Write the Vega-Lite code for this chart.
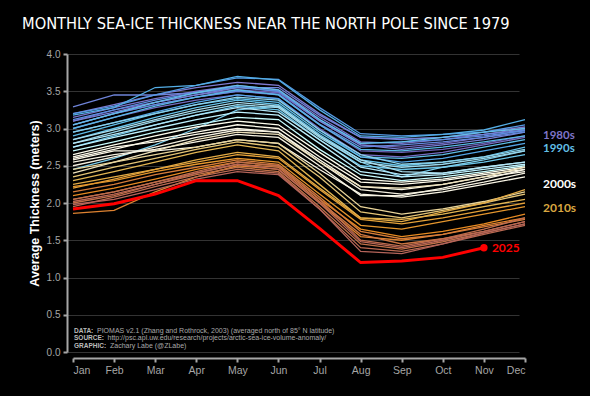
{
"$schema":"https://vega.github.io/schema/vega-lite/v6.json",
"width":452,"height":298,
"autosize":{"type":"none"},
"padding":{"left":73,"top":54,"right":65,"bottom":44},
"background":"#000000",
"config":{"view":{"stroke":null},
"axis":{"domainColor":"#a6a6a6","domainWidth":2,"tickColor":"#a6a6a6","tickWidth":2,"tickSize":4,"labelColor":"#a6a6a6","labelFont":"Liberation Sans","labelFontSize":10,"gridColor":"#333333","gridWidth":1,"offset":6}},
"title":{"text":"MONTHLY SEA-ICE THICKNESS NEAR THE NORTH POLE SINCE 1979","anchor":"start","frame":"group","dx":-51,"offset":17,"color":"#ffffff","font":"DejaVu Sans Condensed, Roboto","fontSize":16.3,"fontWeight":"normal"},
"datasets":{
"ice":[
{"year":1979,"mon":1,"thk":3.05},{"year":1979,"mon":2,"thk":3.20},{"year":1979,"mon":3,"thk":3.32},{"year":1979,"mon":4,"thk":3.42},{"year":1979,"mon":5,"thk":3.50},{"year":1979,"mon":6,"thk":3.45},{"year":1979,"mon":7,"thk":3.05},{"year":1979,"mon":8,"thk":2.70},{"year":1979,"mon":9,"thk":2.68},{"year":1979,"mon":10,"thk":2.72},{"year":1979,"mon":11,"thk":2.80},{"year":1979,"mon":12,"thk":2.90},
{"year":1980,"mon":1,"thk":3.10},{"year":1980,"mon":2,"thk":3.25},{"year":1980,"mon":3,"thk":3.35},{"year":1980,"mon":4,"thk":3.45},{"year":1980,"mon":5,"thk":3.52},{"year":1980,"mon":6,"thk":3.48},{"year":1980,"mon":7,"thk":3.10},{"year":1980,"mon":8,"thk":2.78},{"year":1980,"mon":9,"thk":2.75},{"year":1980,"mon":10,"thk":2.80},{"year":1980,"mon":11,"thk":2.88},{"year":1980,"mon":12,"thk":2.98},
{"year":1981,"mon":1,"thk":3.00},{"year":1981,"mon":2,"thk":3.15},{"year":1981,"mon":3,"thk":3.28},{"year":1981,"mon":4,"thk":3.38},{"year":1981,"mon":5,"thk":3.45},{"year":1981,"mon":6,"thk":3.40},{"year":1981,"mon":7,"thk":3.00},{"year":1981,"mon":8,"thk":2.65},{"year":1981,"mon":9,"thk":2.62},{"year":1981,"mon":10,"thk":2.68},{"year":1981,"mon":11,"thk":2.78},{"year":1981,"mon":12,"thk":2.88},
{"year":1982,"mon":1,"thk":3.15},{"year":1982,"mon":2,"thk":3.28},{"year":1982,"mon":3,"thk":3.40},{"year":1982,"mon":4,"thk":3.50},{"year":1982,"mon":5,"thk":3.58},{"year":1982,"mon":6,"thk":3.52},{"year":1982,"mon":7,"thk":3.15},{"year":1982,"mon":8,"thk":2.82},{"year":1982,"mon":9,"thk":2.80},{"year":1982,"mon":10,"thk":2.85},{"year":1982,"mon":11,"thk":2.92},{"year":1982,"mon":12,"thk":3.00},
{"year":1983,"mon":1,"thk":3.20},{"year":1983,"mon":2,"thk":3.32},{"year":1983,"mon":3,"thk":3.45},{"year":1983,"mon":4,"thk":3.55},{"year":1983,"mon":5,"thk":3.62},{"year":1983,"mon":6,"thk":3.58},{"year":1983,"mon":7,"thk":3.20},{"year":1983,"mon":8,"thk":2.88},{"year":1983,"mon":9,"thk":2.86},{"year":1983,"mon":10,"thk":2.88},{"year":1983,"mon":11,"thk":2.95},{"year":1983,"mon":12,"thk":3.02},
{"year":1984,"mon":1,"thk":3.10},{"year":1984,"mon":2,"thk":3.22},{"year":1984,"mon":3,"thk":3.35},{"year":1984,"mon":4,"thk":3.45},{"year":1984,"mon":5,"thk":3.55},{"year":1984,"mon":6,"thk":3.50},{"year":1984,"mon":7,"thk":3.10},{"year":1984,"mon":8,"thk":2.78},{"year":1984,"mon":9,"thk":2.72},{"year":1984,"mon":10,"thk":2.78},{"year":1984,"mon":11,"thk":2.85},{"year":1984,"mon":12,"thk":2.95},
{"year":1985,"mon":1,"thk":3.29},{"year":1985,"mon":2,"thk":3.45},{"year":1985,"mon":3,"thk":3.45},{"year":1985,"mon":4,"thk":3.48},{"year":1985,"mon":5,"thk":3.55},{"year":1985,"mon":6,"thk":3.55},{"year":1985,"mon":7,"thk":3.18},{"year":1985,"mon":8,"thk":2.88},{"year":1985,"mon":9,"thk":2.85},{"year":1985,"mon":10,"thk":2.88},{"year":1985,"mon":11,"thk":2.92},{"year":1985,"mon":12,"thk":2.98},
{"year":1986,"mon":1,"thk":3.05},{"year":1986,"mon":2,"thk":3.20},{"year":1986,"mon":3,"thk":3.32},{"year":1986,"mon":4,"thk":3.42},{"year":1986,"mon":5,"thk":3.50},{"year":1986,"mon":6,"thk":3.46},{"year":1986,"mon":7,"thk":3.06},{"year":1986,"mon":8,"thk":2.75},{"year":1986,"mon":9,"thk":2.78},{"year":1986,"mon":10,"thk":2.82},{"year":1986,"mon":11,"thk":2.88},{"year":1986,"mon":12,"thk":2.95},
{"year":1987,"mon":1,"thk":3.12},{"year":1987,"mon":2,"thk":3.25},{"year":1987,"mon":3,"thk":3.38},{"year":1987,"mon":4,"thk":3.48},{"year":1987,"mon":5,"thk":3.56},{"year":1987,"mon":6,"thk":3.50},{"year":1987,"mon":7,"thk":3.12},{"year":1987,"mon":8,"thk":2.80},{"year":1987,"mon":9,"thk":2.82},{"year":1987,"mon":10,"thk":2.85},{"year":1987,"mon":11,"thk":2.90},{"year":1987,"mon":12,"thk":2.97},
{"year":1988,"mon":1,"thk":3.20},{"year":1988,"mon":2,"thk":3.30},{"year":1988,"mon":3,"thk":3.45},{"year":1988,"mon":4,"thk":3.58},{"year":1988,"mon":5,"thk":3.68},{"year":1988,"mon":6,"thk":3.66},{"year":1988,"mon":7,"thk":3.28},{"year":1988,"mon":8,"thk":2.93},{"year":1988,"mon":9,"thk":2.90},{"year":1988,"mon":10,"thk":2.92},{"year":1988,"mon":11,"thk":2.95},{"year":1988,"mon":12,"thk":3.05},
{"year":1989,"mon":1,"thk":2.95},{"year":1989,"mon":2,"thk":3.08},{"year":1989,"mon":3,"thk":3.22},{"year":1989,"mon":4,"thk":3.35},{"year":1989,"mon":5,"thk":3.45},{"year":1989,"mon":6,"thk":3.40},{"year":1989,"mon":7,"thk":2.98},{"year":1989,"mon":8,"thk":2.62},{"year":1989,"mon":9,"thk":2.55},{"year":1989,"mon":10,"thk":2.60},{"year":1989,"mon":11,"thk":2.70},{"year":1989,"mon":12,"thk":2.80},
{"year":1990,"mon":1,"thk":3.18},{"year":1990,"mon":2,"thk":3.28},{"year":1990,"mon":3,"thk":3.55},{"year":1990,"mon":4,"thk":3.58},{"year":1990,"mon":5,"thk":3.70},{"year":1990,"mon":6,"thk":3.65},{"year":1990,"mon":7,"thk":3.25},{"year":1990,"mon":8,"thk":2.90},{"year":1990,"mon":9,"thk":2.88},{"year":1990,"mon":10,"thk":2.92},{"year":1990,"mon":11,"thk":2.98},{"year":1990,"mon":12,"thk":3.12},
{"year":1991,"mon":1,"thk":3.00},{"year":1991,"mon":2,"thk":3.15},{"year":1991,"mon":3,"thk":3.30},{"year":1991,"mon":4,"thk":3.42},{"year":1991,"mon":5,"thk":3.52},{"year":1991,"mon":6,"thk":3.45},{"year":1991,"mon":7,"thk":3.05},{"year":1991,"mon":8,"thk":2.72},{"year":1991,"mon":9,"thk":2.70},{"year":1991,"mon":10,"thk":2.75},{"year":1991,"mon":11,"thk":2.82},{"year":1991,"mon":12,"thk":2.90},
{"year":1992,"mon":1,"thk":2.90},{"year":1992,"mon":2,"thk":3.05},{"year":1992,"mon":3,"thk":3.20},{"year":1992,"mon":4,"thk":3.32},{"year":1992,"mon":5,"thk":3.40},{"year":1992,"mon":6,"thk":3.35},{"year":1992,"mon":7,"thk":2.95},{"year":1992,"mon":8,"thk":2.62},{"year":1992,"mon":9,"thk":2.60},{"year":1992,"mon":10,"thk":2.65},{"year":1992,"mon":11,"thk":2.75},{"year":1992,"mon":12,"thk":2.85},
{"year":1993,"mon":1,"thk":3.05},{"year":1993,"mon":2,"thk":3.20},{"year":1993,"mon":3,"thk":3.35},{"year":1993,"mon":4,"thk":3.48},{"year":1993,"mon":5,"thk":3.58},{"year":1993,"mon":6,"thk":3.52},{"year":1993,"mon":7,"thk":3.12},{"year":1993,"mon":8,"thk":2.80},{"year":1993,"mon":9,"thk":2.82},{"year":1993,"mon":10,"thk":2.88},{"year":1993,"mon":11,"thk":2.95},{"year":1993,"mon":12,"thk":3.00},
{"year":1994,"mon":1,"thk":2.85},{"year":1994,"mon":2,"thk":3.00},{"year":1994,"mon":3,"thk":3.15},{"year":1994,"mon":4,"thk":3.28},{"year":1994,"mon":5,"thk":3.38},{"year":1994,"mon":6,"thk":3.32},{"year":1994,"mon":7,"thk":2.92},{"year":1994,"mon":8,"thk":2.58},{"year":1994,"mon":9,"thk":2.50},{"year":1994,"mon":10,"thk":2.55},{"year":1994,"mon":11,"thk":2.62},{"year":1994,"mon":12,"thk":2.75},
{"year":1995,"mon":1,"thk":2.75},{"year":1995,"mon":2,"thk":2.90},{"year":1995,"mon":3,"thk":3.05},{"year":1995,"mon":4,"thk":3.18},{"year":1995,"mon":5,"thk":3.30},{"year":1995,"mon":6,"thk":3.25},{"year":1995,"mon":7,"thk":2.85},{"year":1995,"mon":8,"thk":2.50},{"year":1995,"mon":9,"thk":2.45},{"year":1995,"mon":10,"thk":2.48},{"year":1995,"mon":11,"thk":2.55},{"year":1995,"mon":12,"thk":2.65},
{"year":1996,"mon":1,"thk":2.45},{"year":1996,"mon":2,"thk":2.60},{"year":1996,"mon":3,"thk":2.78},{"year":1996,"mon":4,"thk":3.00},{"year":1996,"mon":5,"thk":3.25},{"year":1996,"mon":6,"thk":3.30},{"year":1996,"mon":7,"thk":2.90},{"year":1996,"mon":8,"thk":2.55},{"year":1996,"mon":9,"thk":2.35},{"year":1996,"mon":10,"thk":2.48},{"year":1996,"mon":11,"thk":2.58},{"year":1996,"mon":12,"thk":2.70},
{"year":1997,"mon":1,"thk":2.95},{"year":1997,"mon":2,"thk":3.08},{"year":1997,"mon":3,"thk":3.20},{"year":1997,"mon":4,"thk":3.32},{"year":1997,"mon":5,"thk":3.42},{"year":1997,"mon":6,"thk":3.38},{"year":1997,"mon":7,"thk":2.98},{"year":1997,"mon":8,"thk":2.65},{"year":1997,"mon":9,"thk":2.52},{"year":1997,"mon":10,"thk":2.55},{"year":1997,"mon":11,"thk":2.62},{"year":1997,"mon":12,"thk":2.72},
{"year":1998,"mon":1,"thk":2.80},{"year":1998,"mon":2,"thk":2.95},{"year":1998,"mon":3,"thk":3.10},{"year":1998,"mon":4,"thk":3.22},{"year":1998,"mon":5,"thk":3.32},{"year":1998,"mon":6,"thk":3.28},{"year":1998,"mon":7,"thk":2.88},{"year":1998,"mon":8,"thk":2.55},{"year":1998,"mon":9,"thk":2.48},{"year":1998,"mon":10,"thk":2.52},{"year":1998,"mon":11,"thk":2.60},{"year":1998,"mon":12,"thk":2.70},
{"year":1999,"mon":1,"thk":2.85},{"year":1999,"mon":2,"thk":2.98},{"year":1999,"mon":3,"thk":3.12},{"year":1999,"mon":4,"thk":3.25},{"year":1999,"mon":5,"thk":3.35},{"year":1999,"mon":6,"thk":3.30},{"year":1999,"mon":7,"thk":2.90},{"year":1999,"mon":8,"thk":2.58},{"year":1999,"mon":9,"thk":2.42},{"year":1999,"mon":10,"thk":2.40},{"year":1999,"mon":11,"thk":2.48},{"year":1999,"mon":12,"thk":2.55},
{"year":2000,"mon":1,"thk":2.80},{"year":2000,"mon":2,"thk":2.92},{"year":2000,"mon":3,"thk":3.05},{"year":2000,"mon":4,"thk":3.18},{"year":2000,"mon":5,"thk":3.28},{"year":2000,"mon":6,"thk":3.22},{"year":2000,"mon":7,"thk":2.85},{"year":2000,"mon":8,"thk":2.48},{"year":2000,"mon":9,"thk":2.38},{"year":2000,"mon":10,"thk":2.40},{"year":2000,"mon":11,"thk":2.48},{"year":2000,"mon":12,"thk":2.55},
{"year":2001,"mon":1,"thk":2.75},{"year":2001,"mon":2,"thk":2.88},{"year":2001,"mon":3,"thk":3.00},{"year":2001,"mon":4,"thk":3.12},{"year":2001,"mon":5,"thk":3.22},{"year":2001,"mon":6,"thk":3.18},{"year":2001,"mon":7,"thk":2.80},{"year":2001,"mon":8,"thk":2.42},{"year":2001,"mon":9,"thk":2.35},{"year":2001,"mon":10,"thk":2.38},{"year":2001,"mon":11,"thk":2.45},{"year":2001,"mon":12,"thk":2.52},
{"year":2002,"mon":1,"thk":2.70},{"year":2002,"mon":2,"thk":2.82},{"year":2002,"mon":3,"thk":2.95},{"year":2002,"mon":4,"thk":3.05},{"year":2002,"mon":5,"thk":3.15},{"year":2002,"mon":6,"thk":3.12},{"year":2002,"mon":7,"thk":2.72},{"year":2002,"mon":8,"thk":2.38},{"year":2002,"mon":9,"thk":2.30},{"year":2002,"mon":10,"thk":2.35},{"year":2002,"mon":11,"thk":2.42},{"year":2002,"mon":12,"thk":2.50},
{"year":2003,"mon":1,"thk":2.65},{"year":2003,"mon":2,"thk":2.78},{"year":2003,"mon":3,"thk":2.90},{"year":2003,"mon":4,"thk":3.02},{"year":2003,"mon":5,"thk":3.10},{"year":2003,"mon":6,"thk":3.05},{"year":2003,"mon":7,"thk":2.68},{"year":2003,"mon":8,"thk":2.32},{"year":2003,"mon":9,"thk":2.28},{"year":2003,"mon":10,"thk":2.32},{"year":2003,"mon":11,"thk":2.40},{"year":2003,"mon":12,"thk":2.48},
{"year":2004,"mon":1,"thk":2.60},{"year":2004,"mon":2,"thk":2.72},{"year":2004,"mon":3,"thk":2.85},{"year":2004,"mon":4,"thk":2.95},{"year":2004,"mon":5,"thk":3.05},{"year":2004,"mon":6,"thk":3.00},{"year":2004,"mon":7,"thk":2.62},{"year":2004,"mon":8,"thk":2.28},{"year":2004,"mon":9,"thk":2.25},{"year":2004,"mon":10,"thk":2.30},{"year":2004,"mon":11,"thk":2.38},{"year":2004,"mon":12,"thk":2.45},
{"year":2005,"mon":1,"thk":2.62},{"year":2005,"mon":2,"thk":2.75},{"year":2005,"mon":3,"thk":2.82},{"year":2005,"mon":4,"thk":2.92},{"year":2005,"mon":5,"thk":3.00},{"year":2005,"mon":6,"thk":2.95},{"year":2005,"mon":7,"thk":2.58},{"year":2005,"mon":8,"thk":2.22},{"year":2005,"mon":9,"thk":2.18},{"year":2005,"mon":10,"thk":2.25},{"year":2005,"mon":11,"thk":2.35},{"year":2005,"mon":12,"thk":2.42},
{"year":2006,"mon":1,"thk":2.58},{"year":2006,"mon":2,"thk":2.70},{"year":2006,"mon":3,"thk":2.70},{"year":2006,"mon":4,"thk":2.75},{"year":2006,"mon":5,"thk":2.85},{"year":2006,"mon":6,"thk":2.80},{"year":2006,"mon":7,"thk":2.45},{"year":2006,"mon":8,"thk":2.12},{"year":2006,"mon":9,"thk":2.08},{"year":2006,"mon":10,"thk":2.15},{"year":2006,"mon":11,"thk":2.25},{"year":2006,"mon":12,"thk":2.35},
{"year":2007,"mon":1,"thk":2.55},{"year":2007,"mon":2,"thk":2.65},{"year":2007,"mon":3,"thk":2.72},{"year":2007,"mon":4,"thk":2.82},{"year":2007,"mon":5,"thk":2.92},{"year":2007,"mon":6,"thk":2.88},{"year":2007,"mon":7,"thk":2.50},{"year":2007,"mon":8,"thk":2.10},{"year":2007,"mon":9,"thk":2.10},{"year":2007,"mon":10,"thk":2.20},{"year":2007,"mon":11,"thk":2.32},{"year":2007,"mon":12,"thk":2.45},
{"year":2008,"mon":1,"thk":2.50},{"year":2008,"mon":2,"thk":2.62},{"year":2008,"mon":3,"thk":2.75},{"year":2008,"mon":4,"thk":2.88},{"year":2008,"mon":5,"thk":2.98},{"year":2008,"mon":6,"thk":2.95},{"year":2008,"mon":7,"thk":2.55},{"year":2008,"mon":8,"thk":2.18},{"year":2008,"mon":9,"thk":2.12},{"year":2008,"mon":10,"thk":2.18},{"year":2008,"mon":11,"thk":2.28},{"year":2008,"mon":12,"thk":2.40},
{"year":2009,"mon":1,"thk":2.40},{"year":2009,"mon":2,"thk":2.55},{"year":2009,"mon":3,"thk":2.70},{"year":2009,"mon":4,"thk":2.85},{"year":2009,"mon":5,"thk":2.95},{"year":2009,"mon":6,"thk":2.92},{"year":2009,"mon":7,"thk":2.55},{"year":2009,"mon":8,"thk":2.22},{"year":2009,"mon":9,"thk":2.20},{"year":2009,"mon":10,"thk":2.25},{"year":2009,"mon":11,"thk":2.35},{"year":2009,"mon":12,"thk":2.48},
{"year":2010,"mon":1,"thk":2.45},{"year":2010,"mon":2,"thk":2.55},{"year":2010,"mon":3,"thk":2.65},{"year":2010,"mon":4,"thk":2.75},{"year":2010,"mon":5,"thk":2.85},{"year":2010,"mon":6,"thk":2.80},{"year":2010,"mon":7,"thk":2.40},{"year":2010,"mon":8,"thk":1.95},{"year":2010,"mon":9,"thk":1.85},{"year":2010,"mon":10,"thk":1.92},{"year":2010,"mon":11,"thk":2.02},{"year":2010,"mon":12,"thk":2.15},
{"year":2011,"mon":1,"thk":2.35},{"year":2011,"mon":2,"thk":2.48},{"year":2011,"mon":3,"thk":2.60},{"year":2011,"mon":4,"thk":2.72},{"year":2011,"mon":5,"thk":2.82},{"year":2011,"mon":6,"thk":2.75},{"year":2011,"mon":7,"thk":2.35},{"year":2011,"mon":8,"thk":1.88},{"year":2011,"mon":9,"thk":1.80},{"year":2011,"mon":10,"thk":1.90},{"year":2011,"mon":11,"thk":2.00},{"year":2011,"mon":12,"thk":2.12},
{"year":2012,"mon":1,"thk":2.30},{"year":2012,"mon":2,"thk":2.42},{"year":2012,"mon":3,"thk":2.55},{"year":2012,"mon":4,"thk":2.68},{"year":2012,"mon":5,"thk":2.78},{"year":2012,"mon":6,"thk":2.70},{"year":2012,"mon":7,"thk":2.25},{"year":2012,"mon":8,"thk":1.80},{"year":2012,"mon":9,"thk":1.78},{"year":2012,"mon":10,"thk":1.85},{"year":2012,"mon":11,"thk":1.95},{"year":2012,"mon":12,"thk":2.05},
{"year":2013,"mon":1,"thk":2.25},{"year":2013,"mon":2,"thk":2.35},{"year":2013,"mon":3,"thk":2.45},{"year":2013,"mon":4,"thk":2.58},{"year":2013,"mon":5,"thk":2.68},{"year":2013,"mon":6,"thk":2.62},{"year":2013,"mon":7,"thk":2.20},{"year":2013,"mon":8,"thk":1.80},{"year":2013,"mon":9,"thk":1.75},{"year":2013,"mon":10,"thk":1.88},{"year":2013,"mon":11,"thk":2.00},{"year":2013,"mon":12,"thk":2.18},
{"year":2014,"mon":1,"thk":2.20},{"year":2014,"mon":2,"thk":2.32},{"year":2014,"mon":3,"thk":2.45},{"year":2014,"mon":4,"thk":2.55},{"year":2014,"mon":5,"thk":2.65},{"year":2014,"mon":6,"thk":2.60},{"year":2014,"mon":7,"thk":2.18},{"year":2014,"mon":8,"thk":1.78},{"year":2014,"mon":9,"thk":1.72},{"year":2014,"mon":10,"thk":1.80},{"year":2014,"mon":11,"thk":1.90},{"year":2014,"mon":12,"thk":2.00},
{"year":2015,"mon":1,"thk":2.22},{"year":2015,"mon":2,"thk":2.30},{"year":2015,"mon":3,"thk":2.42},{"year":2015,"mon":4,"thk":2.52},{"year":2015,"mon":5,"thk":2.60},{"year":2015,"mon":6,"thk":2.55},{"year":2015,"mon":7,"thk":2.12},{"year":2015,"mon":8,"thk":1.70},{"year":2015,"mon":9,"thk":1.65},{"year":2015,"mon":10,"thk":1.75},{"year":2015,"mon":11,"thk":1.85},{"year":2015,"mon":12,"thk":1.95},
{"year":2016,"mon":1,"thk":2.10},{"year":2016,"mon":2,"thk":2.20},{"year":2016,"mon":3,"thk":2.32},{"year":2016,"mon":4,"thk":2.45},{"year":2016,"mon":5,"thk":2.55},{"year":2016,"mon":6,"thk":2.50},{"year":2016,"mon":7,"thk":2.05},{"year":2016,"mon":8,"thk":1.65},{"year":2016,"mon":9,"thk":1.55},{"year":2016,"mon":10,"thk":1.62},{"year":2016,"mon":11,"thk":1.72},{"year":2016,"mon":12,"thk":1.85},
{"year":2017,"mon":1,"thk":1.86},{"year":2017,"mon":2,"thk":1.90},{"year":2017,"mon":3,"thk":2.15},{"year":2017,"mon":4,"thk":2.35},{"year":2017,"mon":5,"thk":2.50},{"year":2017,"mon":6,"thk":2.45},{"year":2017,"mon":7,"thk":2.00},{"year":2017,"mon":8,"thk":1.55},{"year":2017,"mon":9,"thk":1.50},{"year":2017,"mon":10,"thk":1.58},{"year":2017,"mon":11,"thk":1.70},{"year":2017,"mon":12,"thk":1.80},
{"year":2018,"mon":1,"thk":2.15},{"year":2018,"mon":2,"thk":2.25},{"year":2018,"mon":3,"thk":2.38},{"year":2018,"mon":4,"thk":2.48},{"year":2018,"mon":5,"thk":2.58},{"year":2018,"mon":6,"thk":2.52},{"year":2018,"mon":7,"thk":2.08},{"year":2018,"mon":8,"thk":1.62},{"year":2018,"mon":9,"thk":1.52},{"year":2018,"mon":10,"thk":1.58},{"year":2018,"mon":11,"thk":1.68},{"year":2018,"mon":12,"thk":1.78},
{"year":2019,"mon":1,"thk":2.05},{"year":2019,"mon":2,"thk":2.15},{"year":2019,"mon":3,"thk":2.28},{"year":2019,"mon":4,"thk":2.40},{"year":2019,"mon":5,"thk":2.52},{"year":2019,"mon":6,"thk":2.48},{"year":2019,"mon":7,"thk":2.02},{"year":2019,"mon":8,"thk":1.58},{"year":2019,"mon":9,"thk":1.45},{"year":2019,"mon":10,"thk":1.52},{"year":2019,"mon":11,"thk":1.62},{"year":2019,"mon":12,"thk":1.75},
{"year":2020,"mon":1,"thk":2.00},{"year":2020,"mon":2,"thk":2.10},{"year":2020,"mon":3,"thk":2.25},{"year":2020,"mon":4,"thk":2.38},{"year":2020,"mon":5,"thk":2.48},{"year":2020,"mon":6,"thk":2.42},{"year":2020,"mon":7,"thk":1.95},{"year":2020,"mon":8,"thk":1.45},{"year":2020,"mon":9,"thk":1.38},{"year":2020,"mon":10,"thk":1.48},{"year":2020,"mon":11,"thk":1.60},{"year":2020,"mon":12,"thk":1.72},
{"year":2021,"mon":1,"thk":2.05},{"year":2021,"mon":2,"thk":2.15},{"year":2021,"mon":3,"thk":2.28},{"year":2021,"mon":4,"thk":2.42},{"year":2021,"mon":5,"thk":2.55},{"year":2021,"mon":6,"thk":2.50},{"year":2021,"mon":7,"thk":2.05},{"year":2021,"mon":8,"thk":1.50},{"year":2021,"mon":9,"thk":1.42},{"year":2021,"mon":10,"thk":1.52},{"year":2021,"mon":11,"thk":1.65},{"year":2021,"mon":12,"thk":1.80},
{"year":2022,"mon":1,"thk":1.95},{"year":2022,"mon":2,"thk":2.08},{"year":2022,"mon":3,"thk":2.22},{"year":2022,"mon":4,"thk":2.35},{"year":2022,"mon":5,"thk":2.45},{"year":2022,"mon":6,"thk":2.40},{"year":2022,"mon":7,"thk":1.92},{"year":2022,"mon":8,"thk":1.40},{"year":2022,"mon":9,"thk":1.35},{"year":2022,"mon":10,"thk":1.45},{"year":2022,"mon":11,"thk":1.58},{"year":2022,"mon":12,"thk":1.70},
{"year":2023,"mon":1,"thk":2.02},{"year":2023,"mon":2,"thk":2.12},{"year":2023,"mon":3,"thk":2.25},{"year":2023,"mon":4,"thk":2.40},{"year":2023,"mon":5,"thk":2.52},{"year":2023,"mon":6,"thk":2.45},{"year":2023,"mon":7,"thk":2.00},{"year":2023,"mon":8,"thk":1.48},{"year":2023,"mon":9,"thk":1.40},{"year":2023,"mon":10,"thk":1.50},{"year":2023,"mon":11,"thk":1.62},{"year":2023,"mon":12,"thk":1.75},
{"year":2024,"mon":1,"thk":1.98},{"year":2024,"mon":2,"thk":2.05},{"year":2024,"mon":3,"thk":2.18},{"year":2024,"mon":4,"thk":2.32},{"year":2024,"mon":5,"thk":2.42},{"year":2024,"mon":6,"thk":2.38},{"year":2024,"mon":7,"thk":1.92},{"year":2024,"mon":8,"thk":1.35},{"year":2024,"mon":9,"thk":1.32},{"year":2024,"mon":10,"thk":1.45},{"year":2024,"mon":11,"thk":1.60},{"year":2024,"mon":12,"thk":1.72},
{"year":2025,"mon":1,"thk":1.92},{"year":2025,"mon":2,"thk":1.99},{"year":2025,"mon":3,"thk":2.12},{"year":2025,"mon":4,"thk":2.30},{"year":2025,"mon":5,"thk":2.30},{"year":2025,"mon":6,"thk":2.10},{"year":2025,"mon":7,"thk":1.66},{"year":2025,"mon":8,"thk":1.20},{"year":2025,"mon":9,"thk":1.22},{"year":2025,"mon":10,"thk":1.27},{"year":2025,"mon":11,"thk":1.40}
],
"labs":[{"lab":"1980s","mon":12,"thk":2.895},{"lab":"1990s","mon":12,"thk":2.72},{"lab":"2000s","mon":12,"thk":2.25},{"lab":"2010s","mon":12,"thk":1.93}],
"notes":[
{"k":"DATA:","t":"PIOMAS v2.1 (Zhang and Rothrock, 2003) (averaged north of 85° N latitude)","mon":1,"thk":0.286},
{"k":"SOURCE:","t":"http://psc.apl.uw.edu/research/projects/arctic-sea-ice-volume-anomaly/","mon":1,"thk":0.188},
{"k":"GRAPHIC:","t":"Zachary Labe (@ZLabe)","mon":1,"thk":0.087}
]},
"encoding":{
"x":{"field":"mon","type":"quantitative","scale":{"domain":[1,12],"nice":false},
"axis":{"values":[1,2,3,4,5,6,7,8,9,10,11,12],"grid":false,"title":null,"labelPadding":3,"labelFontSize":10.5,"labelExpr":"['Jan','Feb','Mar','Apr','May','Jun','Jul','Aug','Sep','Oct','Nov','Dec'][datum.value-1]"}},
"y":{"field":"thk","type":"quantitative","scale":{"domain":[0,4],"nice":false},
"axis":{"values":[0,0.5,1,1.5,2,2.5,3,3.5,4],"format":".1f","title":"Average Thickness (meters)","titleColor":"#ffffff","titleFont":"Liberation Sans","titleFontSize":12.5,"titleFontWeight":"bold","titlePadding":5,"labelPadding":3}}
},
"layer":[
{"data":{"name":"ice"},"transform":[{"filter":"datum.year < 2025"}],
"mark":{"type":"line","strokeWidth":1.3},
"encoding":{"detail":{"field":"year"},
"color":{"field":"year","type":"quantitative","legend":null,
"scale":{"domain":[1979,1983,1987,1991,1995,1999,2003,2008,2012,2016,2020,2024],
"range":["#6c60b4","#7f7ad0","#5b8ee0","#5ab8e6","#6cc6ea","#a9dcec","#ffffff","#f4f0e0","#e2b552","#e68a22","#c07048","#b4645a"]}}}},
{"data":{"name":"ice"},"transform":[{"filter":"datum.year == 2025"}],
"mark":{"type":"line","strokeWidth":3,"color":"#ff0000"},"encoding":{}},
{"data":{"name":"ice"},"transform":[{"filter":"datum.year == 2025 && datum.mon == 11"}],
"mark":{"type":"point","filled":true,"size":55,"color":"#ff0000","opacity":1},"encoding":{}},
{"data":{"name":"ice"},"transform":[{"filter":"datum.year == 2025 && datum.mon == 11"}],
"mark":{"type":"text","align":"left","dx":8,"baseline":"middle","color":"#ff0000","font":"Lato","fontSize":12,"fontWeight":"bold"},
"encoding":{"text":{"value":"2025"}}},
{"data":{"name":"labs"},"transform":[{"filter":"datum.lab == '1980s'"}],
"mark":{"type":"text","align":"left","dx":18,"baseline":"middle","font":"Lato","fontSize":11.5,"fontWeight":"bold","color":"#7e74c8"},
"encoding":{"text":{"field":"lab"}}},
{"data":{"name":"labs"},"transform":[{"filter":"datum.lab == '1990s'"}],
"mark":{"type":"text","align":"left","dx":18,"baseline":"middle","font":"Lato","fontSize":11.5,"fontWeight":"bold","color":"#62bfe6"},
"encoding":{"text":{"field":"lab"}}},
{"data":{"name":"labs"},"transform":[{"filter":"datum.lab == '2000s'"}],
"mark":{"type":"text","align":"left","dx":18,"baseline":"middle","font":"Lato","fontSize":12,"fontWeight":"bold","color":"#ffffff"},
"encoding":{"text":{"field":"lab"}}},
{"data":{"name":"labs"},"transform":[{"filter":"datum.lab == '2010s'"}],
"mark":{"type":"text","align":"left","dx":18,"baseline":"middle","font":"Lato","fontSize":12,"fontWeight":"bold","color":"#d9a740"},
"encoding":{"text":{"field":"lab"}}},
{"data":{"name":"notes"},
"mark":{"type":"text","align":"left","dx":1,"baseline":"middle","font":"Liberation Sans","fontSize":6.5,"fontWeight":"bold","color":"#bbbbbb"},
"encoding":{"text":{"field":"k"}}},
{"data":{"name":"notes"},"transform":[{"filter":"datum.k == 'DATA:'"}],
"mark":{"type":"text","align":"left","dx":24,"baseline":"middle","font":"Liberation Sans","fontSize":7,"color":"#aaaaaa"},
"encoding":{"text":{"field":"t"}}},
{"data":{"name":"notes"},"transform":[{"filter":"datum.k == 'SOURCE:'"}],
"mark":{"type":"text","align":"left","dx":34.5,"baseline":"middle","font":"Liberation Sans","fontSize":7,"color":"#aaaaaa"},
"encoding":{"text":{"field":"t"}}},
{"data":{"name":"notes"},"transform":[{"filter":"datum.k == 'GRAPHIC:'"}],
"mark":{"type":"text","align":"left","dx":37,"baseline":"middle","font":"Liberation Sans","fontSize":7,"color":"#aaaaaa"},
"encoding":{"text":{"field":"t"}}}
]
}
